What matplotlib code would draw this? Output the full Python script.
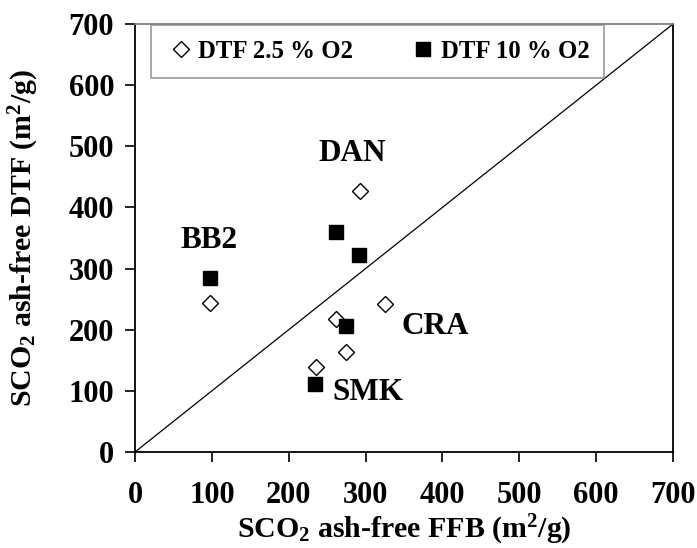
import matplotlib
matplotlib.use('Agg')
import matplotlib.pyplot as plt

plt.rcParams['font.family'] = ['Liberation Serif', 'DejaVu Serif']
plt.rcParams['font.weight'] = 'bold'
plt.rcParams['mathtext.fontset'] = 'custom'
plt.rcParams['mathtext.rm'] = 'Liberation Serif:bold'
plt.rcParams['mathtext.bf'] = 'Liberation Serif:bold'
plt.rcParams['mathtext.default'] = 'bf'

# SCO2 ash-free values (m2/g): FFB (x) vs DTF (y)
ffb_low = [97, 293, 325, 262, 275, 236]       # DTF 2.5 % O2
dtf_low = [244, 427, 242, 217, 163, 139]
ffb_high = [97, 262, 291, 274, 234]           # DTF 10 % O2
dtf_high = [284, 360, 322, 206, 111]

# sample labels
names = ['BB2', 'DAN', 'CRA', 'SMK']
name_x = [97, 283, 390, 303]
name_y = [346, 489, 206, 98]

ticks = [0, 100, 200, 300, 400, 500, 600, 700]
diag = [0, 700]

fig = plt.figure(figsize=(6.97, 5.48), dpi=100)
ax = fig.add_axes([0.1937, 0.1752, 0.7719, 0.781])

ax.plot(diag, diag, color='black', lw=0.9, zorder=1)
ax.plot(ffb_low, dtf_low, 'D', ms=8.5, mfc='white', mec='black', mew=1.0,
        ls='none', label='DTF 2.5 % O2', zorder=3)
ax.plot(ffb_high, dtf_high, 's', ms=10, mfc='black', mec='black',
        ls='none', label='DTF 10 % O2', zorder=3)

for n, x, y in zip(names, name_x, name_y):
    ax.text(x, y, n, fontsize=22.5, fontweight='bold', ha='center', va='center')

ax.set_xlim(0, 700)
ax.set_ylim(0, 700)
ax.set_xticks(ticks)
ax.set_yticks(ticks)
ax.tick_params(direction='out', length=7, width=1.2, labelsize=22)
ax.tick_params(axis='x', pad=14)
ax.tick_params(axis='y', pad=8)
for lab in ax.get_xticklabels() + ax.get_yticklabels():
    lab.set_fontweight('bold')

ax.set_xlabel(r'SCO$_2$ ash-free FFB (m$^2$/g)', fontsize=21.5, fontweight='bold', labelpad=2)
ax.set_ylabel(r'SCO$_2$ ash-free DTF (m$^2$/g)', fontsize=21.5, fontweight='bold', labelpad=20)

for s in ['left', 'bottom', 'right']:
    ax.spines[s].set_color('black')
    ax.spines[s].set_linewidth(1.3)
ax.spines['top'].set_color('#808080')
ax.spines['top'].set_linewidth(1.3)

leg = ax.legend(loc='upper left', bbox_to_anchor=(0.03, 0.0, 0.842, 0.998),
                mode='expand', ncol=2, frameon=True, fancybox=False,
                handlelength=1.2, handletextpad=0.1, borderaxespad=0, borderpad=0.6,
                prop={'weight': 'bold', 'size': 17.8})
leg.get_frame().set_edgecolor('#808080')
leg.get_frame().set_linewidth(1.2)

fig.savefig('out.png', dpi=100)
